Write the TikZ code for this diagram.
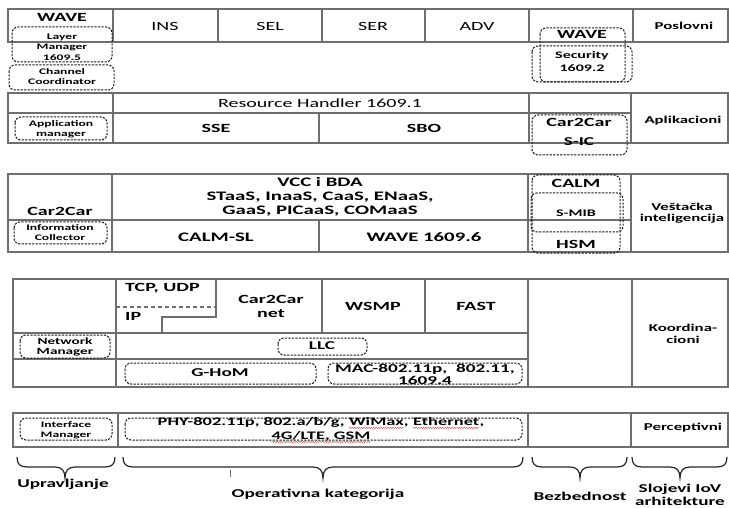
\documentclass[tikz,border=0pt]{standalone}
\usepackage{fontspec}
\usetikzlibrary{decorations.pathmorphing}
\setmainfont{Carlito}[FakeStretch=1.6]
\definecolor{linec}{RGB}{110,110,110}
\definecolor{dashc}{RGB}{25,25,25}
\newcommand\redwave[1]{\tikz[baseline=(rw.base)]{\node[inner sep=0pt,outer sep=0pt] (rw) {#1};
  \draw[red!70, line width=0.5pt, decorate, decoration={snake, amplitude=0.6pt, segment length=2.4pt}]
   ([yshift=-2.6pt]rw.base west) -- ([yshift=-2.6pt]rw.base east);}}
\tikzset{
  grid/.style={draw=linec, line width=1.2pt},
  griddash/.style={draw=linec, line width=1.1pt, dash pattern=on 4pt off 3pt},
  dbox/.style={draw=dashc, line width=1pt, dash pattern=on 2.2pt off 1.3pt, rounded corners=6pt},
  brc/.style={draw=black!85, line width=1.2pt},
  txt/.style={inner sep=0pt, align=center, text=black},
  hb/.style={txt, font=\bfseries\fontsize{12.5}{14}\selectfont},
  rg/.style={txt, font=\fontsize{12.5}{14}\selectfont},
  lb/.style={txt, font=\bfseries\fontsize{10.5}{11.5}\selectfont},
  sb/.style={txt, font=\bfseries\fontsize{8.5}{10}\selectfont},
}
\begin{document}
\begin{tikzpicture}[x=1pt,y=-1pt]
\useasboundingbox (0,0) rectangle (729,508);

% ---------- block 1 ----------
\draw[grid] (8,9) rectangle (728,42);
\foreach \xx in {113,218,322,425,529,633} \draw[grid] (\xx,9) -- (\xx,42);
\draw[dbox] (12,27) rectangle (112,62);
\draw[dbox] (9,65) rectangle (114,90);
\draw[dbox] (540,28) rectangle (625,82);
\draw[dbox] (532,46) rectangle (632,82);
\node[hb] (wave1) at (62,17) {WAVE};
\node[rg] (ins) at (165,26) {INS};
\node[rg] (sel) at (270,26) {SEL};
\node[rg] (ser) at (373,26) {SER};
\node[rg] (adv) at (477,26) {ADV};
\node[lb] (posl) at (684,26) {Poslovni};
\node[sb, font=\bfseries\fontsize{8.5}{10.5}\selectfont] (layer) at (62,47) {Layer\\Manager\\1609.5};
\node[sb] (chan) at (62,77) {Channel\\Coordinator};
\node[hb] (wave2) at (582,34) {WAVE};
\node[txt, font=\bfseries\fontsize{10}{13}\selectfont] (sec) at (582,62) {Security\\1609.2};

% ---------- block 2 ----------
\draw[grid] (8,93) rectangle (728,143);
\draw[grid] (8,113) -- (631,113);
\draw[grid] (113,93) -- (113,143);
\draw[grid] (319,113) -- (319,143);
\draw[grid] (529,93) -- (529,143);
\draw[grid] (631,93) -- (631,143);
\draw[dbox] (15,117) rectangle (107,140);
\draw[dbox] (532,115) rectangle (627,155);
\node[rg] (resh) at (320,103) {Resource Handler 1609.1};
\node[sb] (appm) at (61,129) {Application\\manager};
\node[hb] (sse) at (216,128) {SSE};
\node[hb] (sbo) at (424,128) {SBO};
\node[hb] (c2c1) at (579,122) {Car2Car};
\node[txt, font=\bfseries\fontsize{12}{13}\selectfont] (sic) at (579,142) {S-IC};
\node[lb] (apl) at (683,121) {Aplikacioni};

% ---------- block 3 ----------
\draw[grid] (8,174) rectangle (728,252);
\draw[grid] (8,220) -- (631,220);
\draw[grid] (112,174) -- (112,252);
\draw[grid] (319,220) -- (319,252);
\draw[grid] (528,174) -- (528,252);
\draw[grid] (631,174) -- (631,252);
\draw[dbox] (14,222) rectangle (107,244);
\draw[dbox] (532,175) rectangle (620,253);
\draw[dbox] (531,193) rectangle (623,232);
\node[hb] (c2c2) at (60,211) {Car2Car};
\node[sb] (info) at (60,233) {Information\\Collector};
\node[txt, font=\bfseries\fontsize{13}{14}\selectfont] (vcc) at (320,197) {VCC i BDA\\STaaS, InaaS, CaaS, ENaaS,\\GaaS, PICaaS, COMaaS};
\node[txt, font=\bfseries\fontsize{13}{14}\selectfont] (calmsl) at (216,237) {CALM-SL};
\node[txt, font=\bfseries\fontsize{13}{14}\selectfont] (w16096) at (424,237) {WAVE 1609.6};
\node[hb] (calm) at (576,183) {CALM};
\node[txt, font=\bfseries\fontsize{10}{12}\selectfont] (smib) at (576,213) {S-MIB};
\node[hb] (hsm) at (576,244) {HSM};
\node[lb] (vi) at (682,213) {Veštačka\\inteligencija};

% ---------- block 4 ----------
\draw[grid] (13,279) rectangle (728,387);
\draw[grid] (13,333) -- (528,333);
\draw[grid] (13,359) -- (528,359);
\draw[grid] (116,279) -- (116,387);
\draw[grid] (322,279) -- (322,333);
\draw[grid] (425,279) -- (425,333);
\draw[grid] (528,279) -- (528,387);
\draw[grid] (632,279) -- (632,387);
\draw[grid] (216,279) -- (216,317) -- (162,317) -- (162,333);
\draw[griddash] (116,307) -- (216,307);
\draw[dbox] (20,335) rectangle (110,358);
\draw[dbox] (278,338) rectangle (367,355);
\draw[dbox] (125,363) rectangle (316,384);
\draw[dbox] (328,363) rectangle (522,384);
\node[hb, anchor=west] (tcp) at (125,288) {TCP, UDP};
\node[hb, anchor=west] (ip) at (125,316) {IP};
\node[hb] (c2cn) at (271,306) {Car2Car\\net};
\node[hb] (wsmp) at (373,306) {WSMP};
\node[hb] (fast) at (476,306) {FAST};
\node[txt, font=\bfseries\fontsize{9.5}{10.5}\selectfont] (netm) at (65,347) {Network\\Manager};
\node[txt, font=\bfseries\fontsize{12}{13}\selectfont] (llc) at (322,346) {LLC};
\node[txt, font=\bfseries\fontsize{12}{13}\selectfont] (ghom) at (220,373) {G-HoM};
\node[txt, font=\bfseries\fontsize{12}{12}\selectfont] (mac) at (425,374) {MAC-802.11p,\ \ 802.11,\\1609.4};
\node[lb, font=\bfseries\fontsize{10.5}{12}\selectfont] (koord) at (683,334) {Koordina-\\cioni};

% ---------- block 5 ----------
\draw[grid] (13,413) rectangle (728,447);
\draw[grid] (118,413) -- (118,447);
\draw[grid] (528,413) -- (528,447);
\draw[grid] (631,413) -- (631,447);
\draw[dbox] (20,418) rectangle (112,440);
\draw[dbox] (125,418) rectangle (522,440);
\node[sb] (intf) at (66,430) {Interface\\Manager};
\node[txt, font=\bfseries\fontsize{11.5}{14}\selectfont] (phy) at (321,430) {PHY-802.11p, 802.a/b/g, \redwave{WiMax}, \redwave{Ethernet},\\\redwave{4G/LTE, GSM}};
\node[lb] (perc) at (683,428) {Perceptivni};

% ---------- braces ----------
\draw[brc] (17,457) .. controls (17,464) and (20,467) .. (27,467) -- (55,467)
  .. controls (62,467) and (65,471) .. (65,478) .. controls (65,471) and (68,467) .. (75,467)
  -- (105,467) .. controls (112,467) and (115,464) .. (115,457);
\draw[brc] (123,457) .. controls (123,464) and (126,467) .. (133,467) -- (313,467)
  .. controls (320,467) and (323,471) .. (323,478) .. controls (323,471) and (326,467) .. (333,467)
  -- (513,467) .. controls (520,467) and (523,464) .. (523,457);
\draw[brc] (532,457) .. controls (532,464) and (535,467) .. (542,467) -- (570,467)
  .. controls (577,467) and (580,471) .. (580,478) .. controls (580,471) and (583,467) .. (590,467)
  -- (617,467) .. controls (624,467) and (627,464) .. (627,457);
\draw[brc] (632,457) .. controls (632,464) and (635,467) .. (642,467) -- (670,467)
  .. controls (677,467) and (680,471) .. (680,478) .. controls (680,471) and (683,467) .. (690,467)
  -- (717,467) .. controls (724,467) and (727,464) .. (727,457);
\draw[linec, line width=0.6pt] (230,470) -- (230,477);

\node[txt, font=\bfseries\fontsize{12}{15}\selectfont] (upr) at (63,484) {Upravljanje};
\node[txt, font=\bfseries\fontsize{12}{15}\selectfont] (oper) at (318,494) {Operativna kategorija};
\node[txt, font=\bfseries\fontsize{12}{15}\selectfont] (bez) at (580,496) {Bezbednost};
\node[txt, font=\bfseries\fontsize{12}{13.5}\selectfont] (sloj) at (680,495) {Slojevi IoV\\arhitekture};
\end{tikzpicture}
\end{document}
